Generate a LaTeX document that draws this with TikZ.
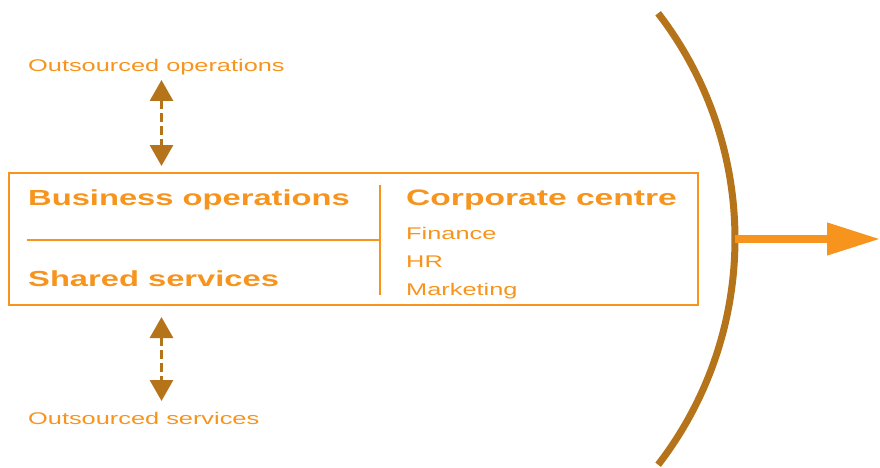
\documentclass[tikz,border=0pt]{standalone}
\usepackage{fontspec}
\newfontfamily\wf[FakeStretch=1.5]{Liberation Sans}
\usetikzlibrary{arrows.meta}
\definecolor{org}{RGB}{247,148,29}
\definecolor{brn}{RGB}{181,115,26}
\tikzset{
  small/.style={anchor=base west, inner sep=0pt, text=org, font=\wf\fontsize{16.9}{20}\selectfont},
  big/.style={anchor=base west, inner sep=0pt, text=org, font=\wf\bfseries\fontsize{21.8}{26}\selectfont},
  bigger/.style={big, font=\wf\bfseries\fontsize{22.4}{26}\selectfont},
  dbl/.style={draw=brn, line width=3pt, dash pattern=on 9pt off 4pt, {Triangle[width=23pt,length=21pt]}-{Triangle[width=23pt,length=21pt]}},
  framebox/.style={draw=org, line width=1.5pt, minimum width=689pt, minimum height=132pt, inner sep=0pt},
  divider/.style={draw=org, line width=1.5pt},
}
\begin{document}
\begin{tikzpicture}[x=1pt,y=-1pt]
\useasboundingbox (0,0) rectangle (880,468);
\node[framebox] (box) at (353.5,239) {};
\node[small] (oo) at (28,72) {Outsourced operations};
\node[small] (os) at (28,424) {Outsourced services};
\node[big] (bo) at (28,205) {Business operations};
\node[big] (ss) at (28,286) {Shared services};
\node[bigger] (cc) at (406,205) {Corporate centre};
\node[small] (fi) at (406,239) {Finance};
\node[small] (hr) at (406,267) {HR};
\node[small] (mk) at (406,295) {Marketing};
\coordinate (vt) at (380,185);
\coordinate (vb) at (380,295);
\coordinate (hl) at (27,240);
\coordinate (hr2) at (380,240);
\draw[divider] (vt) -- (vb);
\draw[divider] (hl) -- (hr2);
\coordinate (a1) at (161.5,80);
\coordinate (a2) at (161.5,166);
\coordinate (b1) at (161.5,317);
\coordinate (b2) at (161.5,401);
\draw[dbl] (a1) -- (a2);
\draw[dbl] (b1) -- (b2);
\coordinate (c) at (365,239);
\draw[brn, line width=7pt] (c) ++(-37.6:370) arc[start angle=-37.6, end angle=37.6, radius=370];
\coordinate (arcmid) at (735,239);
\coordinate (tip) at (880,239);
\draw[org, line width=7.5pt, -{Triangle[width=31pt,length=53pt]}] (arcmid) -- (tip);
\end{tikzpicture}
\end{document}
